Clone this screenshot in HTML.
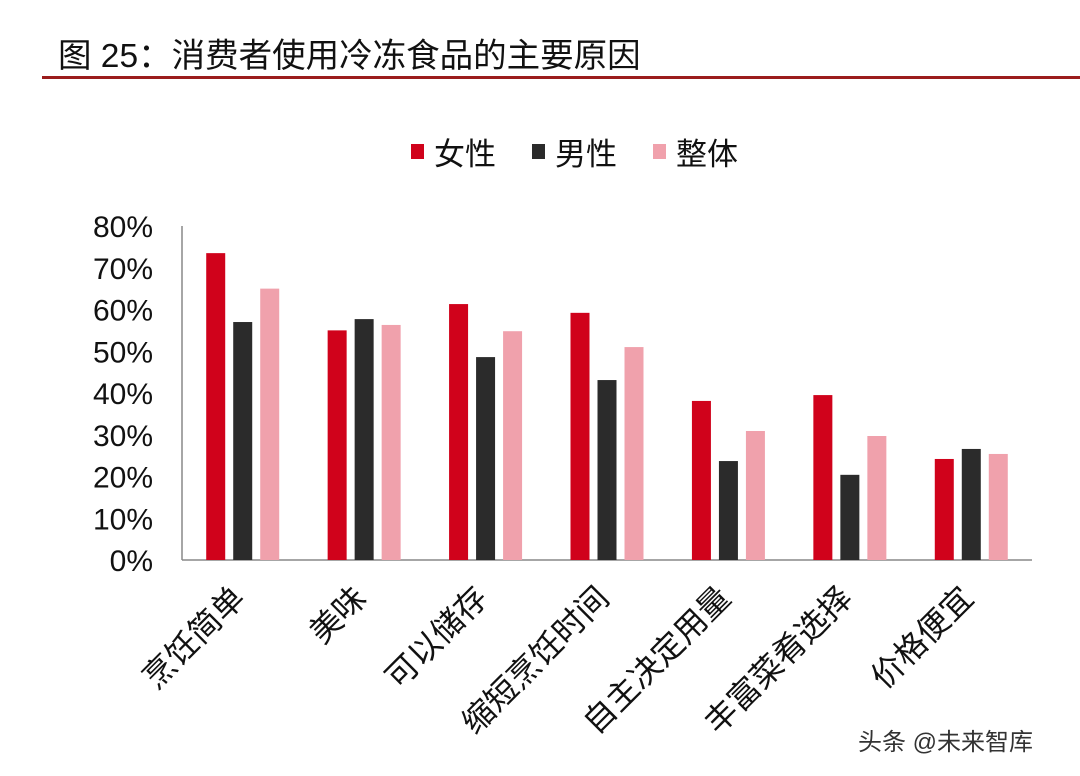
<!DOCTYPE html>
<html><head><meta charset="utf-8"><style>
body{margin:0;background:#fff;}
svg{display:block;font-family:"Liberation Sans","Noto Sans CJK SC",sans-serif;}
</style></head><body>
<svg id="c" width="1080" height="776">
<text x="58" y="67" font-size="33.5" fill="#111">图 25：消费者使用冷冻食品的主要原因</text>
<rect x="42" y="76" width="1038" height="3" fill="#9b1c1c"/>
<g>
<rect x="411" y="144" width="13" height="15" fill="#d0021b"/>
<text x="434" y="165" font-size="31" fill="#111">女性</text>
<rect x="532" y="144" width="13" height="15" fill="#2b2b2b"/>
<text x="555" y="165" font-size="31" fill="#111">男性</text>
<rect x="653" y="144" width="13" height="15" fill="#f0a1ac"/>
<text x="676" y="165" font-size="31" fill="#111">整体</text>
</g>
<g id="plot"></g>
<text x="858" y="750" font-size="24" fill="#333">头条 @未来智库</text>
</svg>
<script>
const categories=["烹饪简单","美味","可以储存","缩短烹饪时间","自主决定用量","丰富菜肴选择","价格便宜"];
const female=[73.5,55,61.3,59.2,38.1,39.5,24.2];
const male=[57,57.7,48.6,43.1,23.7,20.4,26.6];
const overall=[65,56.3,54.8,51,30.9,29.7,25.4];
const ticks=[0,10,20,30,40,50,60,70,80];
const NS="http://www.w3.org/2000/svg";
const g=document.getElementById('plot');
const x0=182,x1=1032,y0=560,y1=226;
const y=v=>y0-(v/80)*(y0-y1);
const cw=(x1-x0)/categories.length;
const cx=i=>x0+cw*(i+0.5);
function mk(t,a){const e=document.createElementNS(NS,t);for(const k in a)e.setAttribute(k,a[k]);g.appendChild(e);return e;}
const ax=mk('line',{x1:x0,y1:y1,x2:x0,y2:y0,stroke:'#888','stroke-width':1.5});


const bx=mk('line',{x1:x0,y1:y0,x2:x1,y2:y0,stroke:'#888','stroke-width':1.5});


ticks.forEach(t=>{const e=mk('text',{x:153,y:y(t)+11,'font-size':30,'text-anchor':'end',fill:'#111'});e.textContent=t+'%';

});
const series=[[female,'#d0021b','female'],[male,'#2b2b2b','male'],[overall,'#f0a1ac','overall']];
categories.forEach((c,i)=>{
 series.forEach((s,j)=>{const v=s[0][i];const bxp=cx(i)+(j-1)*27-9.5;
  const r=mk('rect',{x:bxp,y:y(v),width:19,height:y0-y(v),fill:s[1]});
  
  });
 const t=mk('text',{x:0,y:0,'font-size':32,'text-anchor':'end',fill:'#111',transform:`translate(${cx(i)+4},${600}) rotate(-45)`});
 t.textContent=c;
 
 
});
</script>
</body></html>
